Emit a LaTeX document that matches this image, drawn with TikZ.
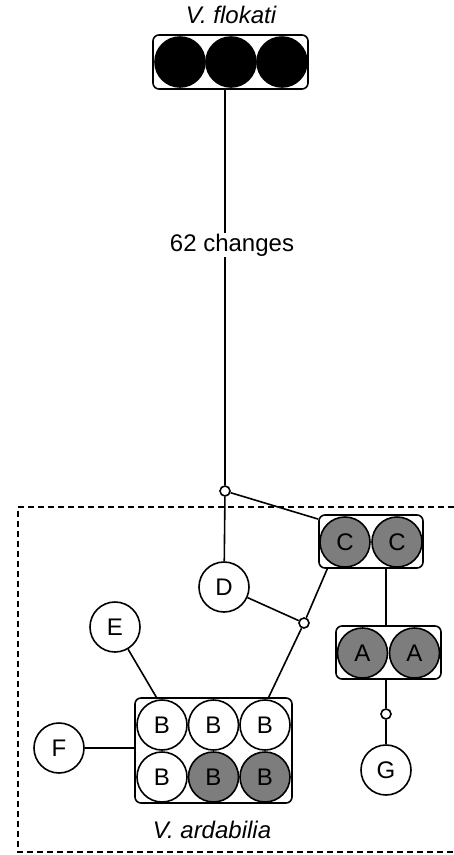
\documentclass[tikz,border=0pt]{standalone}
\usepackage{fontspec}
\setmainfont{Liberation Sans}
\definecolor{hapgray}{RGB}{125,125,125}
\tikzset{
  line/.style={line width=1.6pt},
  hap/.style={circle, draw, line width=1.6pt, minimum size=50pt, inner sep=0pt, font=\fontsize{24}{28}\selectfont},
  hapw/.style={hap, fill=white},
  hapg/.style={hap, fill=hapgray},
  haplo/.style={hap, fill=black},
  grp/.style={rectangle, rounded corners=6pt, draw, line width=1.6pt, inner sep=0pt},
  junc/.style={circle, draw, fill=white, line width=1.6pt, minimum size=10pt, inner sep=0pt},
  lab/.style={font=\fontsize{24}{28}\selectfont}
}
\begin{document}
\begin{tikzpicture}[x=1pt,y=-1pt]
\useasboundingbox (0,0) rectangle (454,855);
% dashed region
\draw[line width=1.4pt, dash pattern=on 6pt off 4pt] (454,507) -- (18,507) -- (18,852) -- (454,852);
% groups
\node[grp, minimum width=155pt, minimum height=54pt] (fbox) at (230.5,62) {};
\node[grp, minimum width=104pt, minimum height=53pt] (cbox) at (371,541.5) {};
\node[grp, minimum width=105pt, minimum height=53pt] (abox) at (388.5,652.5) {};
\node[grp, minimum width=157pt, minimum height=105pt] (bbox) at (213.5,750.5) {};
% flokati
\node[haplo] (f1) at (180,62) {};
\node[haplo] (f2) at (231,62) {};
\node[haplo] (f3) at (282,62) {};
\node[lab, font=\fontsize{24}{28}\selectfont\itshape] (tflok) at (231,15) {V. flokati};
% C
\node[hapg] (c1) at (345,542) {C};
\node[hapg] (c2) at (397,542) {C};
% A
\node[hapg] (a1) at (362.5,653) {A};
\node[hapg] (a2) at (414.5,653) {A};
% B
\node[hapw] (b1) at (162,725) {B};
\node[hapw] (b2) at (213.5,725) {B};
\node[hapw] (b3) at (265,725) {B};
\node[hapw] (b4) at (162,777) {B};
\node[hapg] (b5) at (213.5,777) {B};
\node[hapg] (b6) at (265,777) {B};
% singles
\node[hapw] (d) at (224,587) {D};
\node[hapw] (e) at (115,627) {E};
\node[hapw] (f) at (59,748) {F};
\node[hapw] (g) at (386,770) {G};
% junctions
\node[junc] (j1) at (225,491) {};
\node[junc] (j2) at (304,623) {};
\node[junc] (j3) at (386,714) {};
% connectors
\draw[line] (fbox.south -| j1) -- (j1);
\node[lab, fill=white, inner sep=1pt] (tch) at (232,245) {62 changes};
\draw[line] (j1) -- (d);
\draw[line] (j1) -- (cbox.157);
\draw[line] (d) -- (j2);
\draw[line] (j2) -- (cbox.212);
\draw[line] (j2) -- (bbox.44.5);
\draw[line] (e) -- (bbox.137);
\draw[line] (f) -- (f -| bbox.west);
\draw[line] (cbox.south -| j3) -- (abox.north -| j3);
\draw[line] (abox.south -| j3) -- (j3);
\draw[line] (j3) -- (g);
\node[lab, font=\fontsize{24}{28}\selectfont\itshape] (tard) at (212,830) {V. ardabilia};
\end{tikzpicture}
\end{document}
